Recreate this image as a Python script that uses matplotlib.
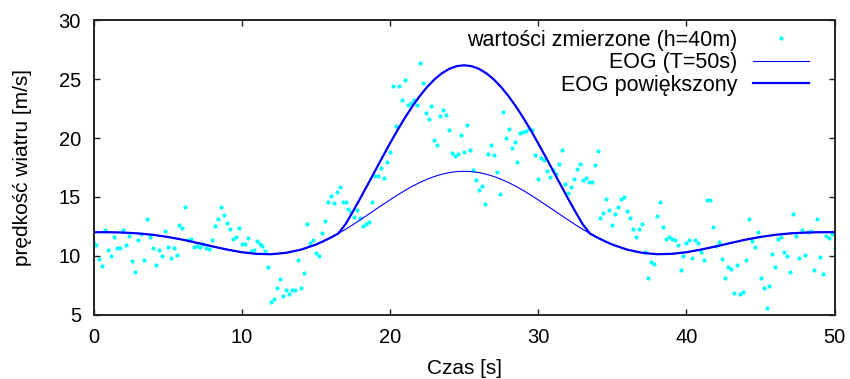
import matplotlib
matplotlib.use("Agg")
import matplotlib.pyplot as plt
import numpy as np

plt.rcParams["font.family"] = ["Liberation Sans", "DejaVu Sans"]

# measured wind speed, one sample every 0.2 s from t=0 to t=50 s
dt = 0.2
measured = [
    11.08, 10.88, 9.74, 9.15, 12.16, 10.51, 10.00, 11.56, 10.65, 10.68,
    12.19, 10.94, 11.71, 9.57, 8.58, 11.31, 11.88, 9.60, 13.15, 11.62,
    10.63, 9.23, 10.51, 9.97, 12.10, 10.71, 9.83, 10.63, 10.06, 12.59,
    12.39, 14.15, 11.31, 11.39, 10.74, 10.80,
    10.74, 11.02, 10.68, 10.60, 11.34, 12.53, 13.15, 14.15, 13.44,
    12.76, 12.30, 11.45, 11.56, 12.39,
    11.02, 10.99, 11.53, 10.40, 10.51,
    11.25, 10.99, 10.80, 10.37, 9.01,
    6.08, 6.31, 7.30, 8.04, 6.62,
    7.10, 6.76, 7.10, 7.10, 9.60,
    7.30, 8.52,
    12.73, 11.08, 11.36,
    10.23, 9.94, 11.93, 12.96, 14.58,
    15.06, 14.49, 15.43, 15.83, 14.55,
    14.55, 13.98, 13.75, 13.30, 13.92,
    13.24, 12.50, 12.73, 12.84, 14.60,
    16.82, 16.82, 17.42, 16.65, 17.96,
    18.81, 24.44, 21.03, 24.44, 23.21,
    24.92, 22.79,
    23.02, 23.25, 22.79,
    26.37, 24.69, 22.13, 21.62, 22.70,
    19.80, 19.41, 21.88, 22.36, 21.94,
    20.71, 18.72, 18.44, 18.67, 20.23,
    18.78, 21.11, 18.95, 17.25, 16.48,
    15.60, 15.97, 14.43, 18.64, 19.43,
    18.58, 17.13, 15.29, 22.22, 20.00,
    20.77, 19.18, 19.69,
    17.93, 20.40, 20.49, 20.60, 20.86, 20.71, 18.55,
    16.54, 18.30, 18.18, 17.22, 16.71,
    17.25, 16.91, 17.76, 18.98, 16.14,
    15.37, 15.85, 16.54, 17.36, 17.76,
    16.45, 16.65, 16.25, 16.25, 17.70,
    18.87, 13.18, 13.67, 14.86, 13.92,
    12.61, 13.55, 14.18,
    14.83, 14.97,
    13.84, 13.18, 12.24, 11.59, 12.27,
    12.73, 10.31, 8.07, 9.43, 9.32,
    13.38, 14.58, 12.42, 11.45, 11.59,
    11.39, 11.34, 10.91, 8.75, 9.94,
    11.11, 11.31, 9.77, 11.34, 11.05,
    10.34, 9.60, 14.75, 14.77, 12.42,
    10.85, 11.19, 9.72, 8.07,
    9.01, 8.86,
    6.82, 9.18, 6.73, 6.90, 9.63,
    13.13, 11.25, 10.74, 12.05, 8.10,
    7.30, 5.54, 7.41, 10.17, 9.06,
    11.45, 11.62, 10.34, 9.97, 8.66,
    13.52, 11.71, 9.80, 12.19, 10.03,
    11.99, 12.07, 8.75, 13.15, 9.89,
    8.47, 11.68, 11.48, 11.85, 10.65,
]
t_meas = np.arange(len(measured)) * dt

# EOG curves: read every 1 s at the flanks, every 0.5 s around the gust
t_eog = np.concatenate([np.arange(0, 15, 1.0),
                        np.arange(15, 35.5, 0.5),
                        np.arange(36, 51, 1.0)])
eog = [
    12.00, 12.00, 11.97, 11.90, 11.78, 11.60, 11.37, 11.09, 10.80, 10.53,
    10.30, 10.16, 10.13, 10.25, 10.52,
    10.95, 11.23, 11.54, 11.88, 12.25, 12.64, 13.06, 13.48, 13.91, 14.33,
    14.75, 15.16, 15.54, 15.90, 16.22, 16.50, 16.74, 16.93, 17.07, 17.15,
    17.18,
    17.15, 17.07, 16.93, 16.74, 16.50, 16.22, 15.90, 15.54, 15.16, 14.75,
    14.33, 13.91, 13.48, 13.06, 12.64, 12.25, 11.88, 11.54, 11.23, 10.95,
    10.52, 10.25, 10.13, 10.16, 10.30, 10.53, 10.80, 11.09, 11.37, 11.60,
    11.78, 11.90, 11.97, 12.00, 12.00,
]
eog_big = [
    12.00, 12.00, 11.97, 11.90, 11.78, 11.60, 11.37, 11.09, 10.80, 10.53,
    10.30, 10.16, 10.13, 10.25, 10.52,
    10.95, 11.23, 11.54, 11.88, 12.68, 13.76, 14.89, 16.05, 17.23, 18.40,
    19.55, 20.66, 21.71, 22.68, 23.56, 24.34, 24.99, 25.51, 25.89, 26.12,
    26.19,
    26.12, 25.89, 25.51, 24.99, 24.34, 23.56, 22.68, 21.71, 20.66, 19.55,
    18.40, 17.23, 16.05, 14.89, 13.76, 12.68, 11.88, 11.54, 11.23, 10.95,
    10.52, 10.25, 10.13, 10.16, 10.30, 10.53, 10.80, 11.09, 11.37, 11.60,
    11.78, 11.90, 11.97, 12.00, 12.00,
]

fig = plt.figure(figsize=(8.5, 3.79), dpi=100)
ax = fig.add_axes([0.110, 0.170, 0.872, 0.776])

ax.plot(t_meas, measured, linestyle="none", marker="o", markersize=3.0,
        markeredgewidth=0, color="#00ffff", label="wartości zmierzone (h=40m)")
ax.plot(t_eog, eog, color="#0000ff", linewidth=0.8, label="EOG (T=50s)")
ax.plot(t_eog, eog_big, color="#0000ff", linewidth=1.6, label="EOG powiększony")

ax.set_xlim(0, 50)
ax.set_ylim(5, 30)
ax.set_xticks([0, 10, 20, 30, 40, 50])
ax.set_yticks([5, 10, 15, 20, 25, 30])
ax.tick_params(direction="in", length=4, width=1.0, labelsize=14.5,
               top=True, right=True, color="#222222")
ax.tick_params(axis="x", pad=10)
ax.tick_params(axis="y", pad=9)
for s in ax.spines.values():
    s.set_linewidth(1.4)
    s.set_color("#222222")

ax.set_xlabel("Czas [s]", fontsize=15, labelpad=8)
ax.set_ylabel("prędkość wiatru [m/s]", fontsize=15, labelpad=19)

ax.legend(loc="upper right", bbox_to_anchor=(0.965, 0.969), frameon=False,
          markerfirst=False, numpoints=1, fontsize=15.5, handlelength=2.6,
          handletextpad=0.7, borderpad=0, borderaxespad=0, labelspacing=0.08)

fig.savefig("out.png", dpi=100)
